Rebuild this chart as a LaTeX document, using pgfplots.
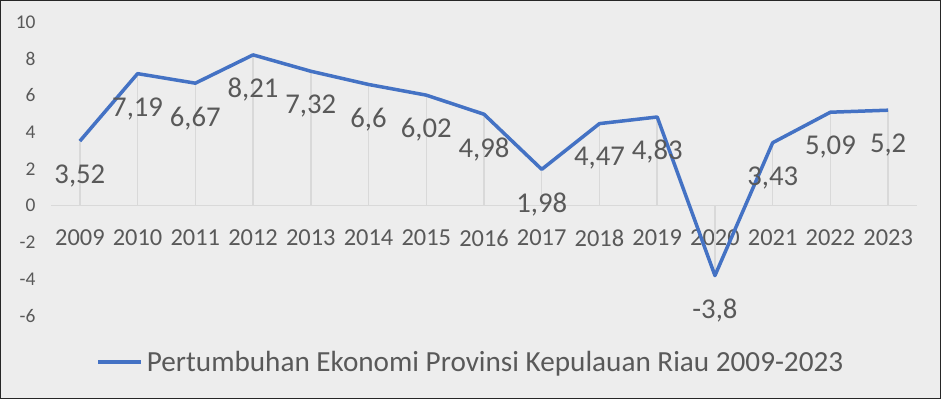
\documentclass[border=0pt]{standalone}
\usepackage{fontspec}
\setmainfont{Carlito}
\usepackage{pgfplots}
\pgfplotsset{compat=1.18}
\definecolor{bgc}{HTML}{EDEDED}
\definecolor{txt}{HTML}{595959}
\definecolor{gridc}{HTML}{D9D9D9}
\definecolor{lineblue}{HTML}{4472C4}
\begin{document}
\begin{tikzpicture}
\useasboundingbox (0,0) rectangle (941bp,399bp);
\fill[bgc] (0,0) rectangle (941bp,399bp);
\draw[line width=2.5bp, black!85] (0,0) rectangle (941bp,399bp);
\begin{axis}[
  at={(51bp,83bp)}, anchor=south west,
  scale only axis, width=866bp, height=294bp,
  xmin=-0.5, xmax=14.5, ymin=-6, ymax=10,
  axis line style={draw=none},
  major tick length=0pt,
  clip=false,
  xtick={0,1,2,3,4,5,6,7,8,9,10,11,12,13,14},
  xticklabels={2009,2010,2011,2012,2013,2014,2015,2016,2017,2018,2019,2020,2021,2022,2023},
  ytick={-6,-4,-2,0,2,4,6,8,10},
  yticklabels={-6,-4,-2,0,2,4,6,8,10},
  xticklabel style={anchor=center, yshift=78bp, font=\fontsize{24.5}{24.5}\selectfont, text=txt},
  yticklabel style={anchor=east, xshift=-12bp, font=\fontsize{19.5}{19.5}\selectfont, text=txt},
  legend style={at={(0.486,-0.156)}, anchor=center, draw=none, fill=none,
    font=\fontsize{29.3}{29.3}\selectfont, text=txt},
  legend image code/.code={\draw[#1] (0bp,0bp) -- (43bp,0bp);},
  legend style={nodes={inner xsep=4bp}},
]
\addplot[ycomb, gridc, line width=1.5bp, mark=none, forget plot] table {
x y
0 3.52
1 7.19
2 6.67
3 8.21
4 7.32
5 6.6
6 6.02
7 4.98
8 1.98
9 4.47
10 4.83
11 -3.8
12 3.43
13 5.09
14 5.2
};
\addplot[gridc, line width=1.5bp, mark=none, forget plot] coordinates {(-0.5,0) (14.5,0)};
\addplot[lineblue, line width=3.5bp, line join=round, mark=none,
  nodes near coords, point meta=explicit symbolic,
  every node near coord/.style={anchor=center, yshift=-35bp, font=\fontsize{28.8}{28.8}\selectfont, text=txt}]
  table[meta=lab] {
x y lab
0 3.52 3,52
1 7.19 7,19
2 6.67 6,67
3 8.21 8,21
4 7.32 7,32
5 6.6 6,6
6 6.02 6,02
7 4.98 4,98
8 1.98 1,98
9 4.47 4,47
10 4.83 4,83
11 -3.8 -3,8
12 3.43 3,43
13 5.09 5,09
14 5.2 5,2
};
\addlegendentry{Pertumbuhan Ekonomi Provinsi Kepulauan Riau 2009-2023}
\end{axis}
\end{tikzpicture}
\end{document}
